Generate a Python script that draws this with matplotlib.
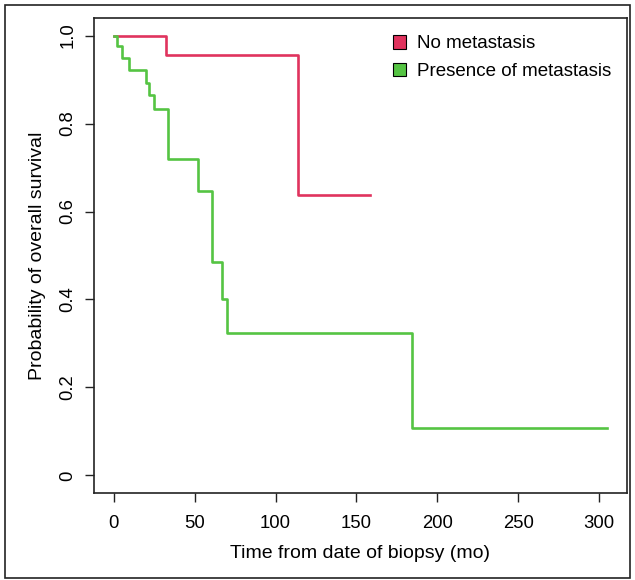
import matplotlib
matplotlib.use("Agg")
import matplotlib.pyplot as plt
from matplotlib.patches import Patch, Rectangle

# Kaplan-Meier step data (time in months, survival probability)
no_met_time = [0, 32, 114, 158.5]
no_met_surv = [1.0, 0.955, 0.637, 0.637]

met_time = [0, 1.8, 5.0, 9.7, 19.8, 21.6, 24.8, 33.6, 52.1, 61.0, 67.2, 69.7, 184.1, 304.7]
met_surv = [1.0, 0.976, 0.948, 0.921, 0.892, 0.864, 0.833, 0.719, 0.647, 0.485, 0.401, 0.323, 0.107, 0.107]

x_ticks = [0, 50, 100, 150, 200, 250, 300]
y_ticks = [0, 0.2, 0.4, 0.6, 0.8, 1.0]
y_tick_labels = ["0", "0.2", "0.4", "0.6", "0.8", "1.0"]

series_labels = ["No metastasis", "Presence of metastasis"]
red = "#E0335E"
green = "#55C443"

plt.rcParams['font.family'] = ['Liberation Sans', 'DejaVu Sans']
plt.rcParams['font.size'] = 13

fig = plt.figure(figsize=(6.35, 5.80), dpi=100)
ax = fig.add_axes([94/635, 1 - 493/580, (627 - 94)/635, (493 - 18)/580])

ax.step(no_met_time, no_met_surv, where='post', color=red, lw=1.9)
ax.step(met_time, met_surv, where='post', color=green, lw=1.9)

ax.set_xlim(-12.2, 317.2)
ax.set_ylim(-0.04, 1.04)
ax.set_xticks(x_ticks)
ax.set_yticks(y_ticks)
ax.set_yticklabels(y_tick_labels, rotation=90, va='center')
ax.tick_params(axis='both', direction='out', length=6.5, width=1.0, color='#222222', labelsize=13.3)
ax.tick_params(axis='x', pad=9)
ax.tick_params(axis='y', pad=6)
for sp in ax.spines.values():
    sp.set_linewidth(1.2)
    sp.set_color('#222222')

ax.set_xlabel("Time from date of biopsy (mo)", fontsize=14, labelpad=10)
ax.set_ylabel("Probability of overall survival", fontsize=14, labelpad=10)

handles = [Patch(facecolor=red, edgecolor='black', lw=0.8),
           Patch(facecolor=green, edgecolor='black', lw=0.8)]
ax.legend(handles, series_labels, loc='upper left', bbox_to_anchor=((393 - 94)/533, 1 - (35 - 18)/475),
          frameon=False, fontsize=13.5, handlelength=0.7, handleheight=0.75,
          handletextpad=0.6, labelspacing=0.55, borderaxespad=0, borderpad=0)

# outer frame around the figure
fig.patches.append(Rectangle((5/635, 2/580), 625/635, 573/580, transform=fig.transFigure,
                             fill=False, edgecolor='#222222', lw=1.2))

fig.savefig("out.png", dpi=100)
